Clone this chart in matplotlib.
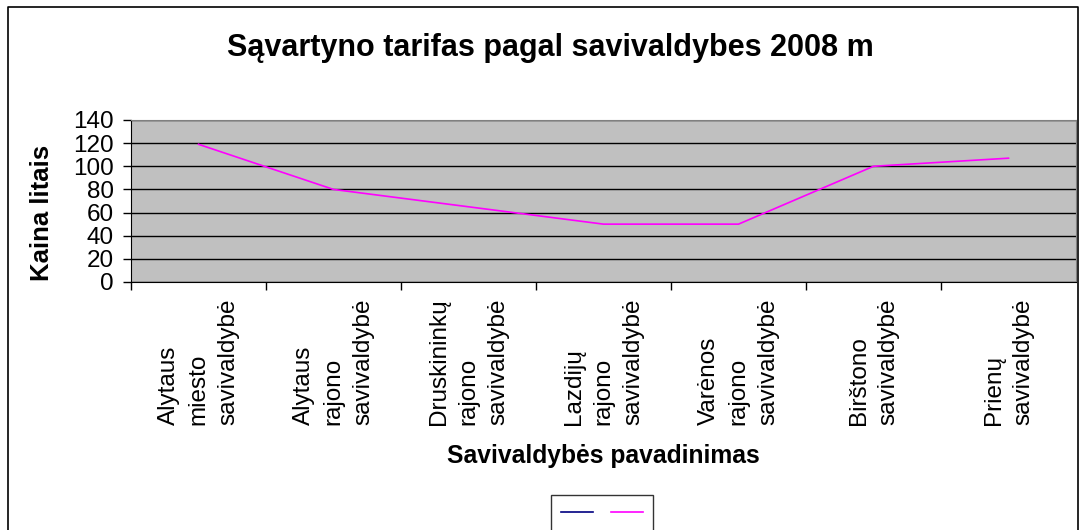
import matplotlib
matplotlib.use("Agg")
import matplotlib.pyplot as plt
from matplotlib.lines import Line2D
import numpy as np

categories = [
    "Alytaus\nmiesto\nsavivaldybė",
    "Alytaus\nrajono\nsavivaldybė",
    "Druskininkų\nrajono\nsavivaldybė",
    "Lazdijų\nrajono\nsavivaldybė",
    "Varėnos\nrajono\nsavivaldybė",
    "Birštono\nsavivaldybė",
    "Prienų\nsavivaldybė",
]
series_blue = [np.nan] * 7
series_magenta = [119, 80, 65, 50, 50, 100, 107]
yticks = [0, 20, 40, 60, 80, 100, 120, 140]

plt.rcParams['font.family'] = ['Liberation Sans', 'DejaVu Sans']

W, H = 1080, 530
fig = plt.figure(figsize=(W / 100, H / 100), dpi=100)

# outer chart border (bottom cropped)
fig.add_artist(Line2D([8 / W, 8 / W, 1078 / W, 1078 / W],
                      [-0.01, 1 - 7 / H, 1 - 7 / H, -0.01],
                      transform=fig.transFigure, color='black', lw=1.2))

ax = fig.add_axes([131 / W, 1 - 282 / H, (1076 - 131) / W, (282 - 120) / H])
ax.set_facecolor('#C0C0C0')
x = np.arange(len(categories))
l1, = ax.plot(x, series_blue, color='#000080', lw=1.2)
l2, = ax.plot(x, series_magenta, color='#FF00FF', lw=1.2)

ax.set_xlim(-0.5, len(categories) - 0.5)
ax.set_ylim(0, 140)
ax.set_yticks(yticks)
ax.set_yticklabels([str(v) for v in yticks], fontsize=17.5)
ax.yaxis.grid(True, color='black', lw=1)
ax.set_axisbelow(True)
ax.tick_params(axis='y', direction='out', length=6, width=1, pad=6.5, colors='black')

ax.set_xticks(x)
ax.set_xticklabels(categories, rotation=90, fontsize=17.5, linespacing=1.47,
                   va='top', ha='center', multialignment='left')
ax.tick_params(axis='x', which='major', length=0, pad=12)
ax.set_xticks(np.arange(len(categories)) - 0.5, minor=True)
ax.tick_params(axis='x', which='minor', direction='out', length=6, width=1)

for s in ['top', 'right']:
    ax.spines[s].set_color('#808080')
for s in ['left', 'bottom']:
    ax.spines[s].set_color('black')

fig.text(550 / W, 1 - 48 / H, "Sąvartyno tarifas pagal savivaldybes 2008 m",
         ha='center', va='center', fontsize=22, fontweight='bold')
fig.text(603 / W, 1 - 456 / H, "Savivaldybės pavadinimas",
         ha='center', va='center', fontsize=17.7, fontweight='bold')
fig.text(42 / W, 1 - 213 / H, "Kaina litais", rotation=90,
         ha='center', va='center', fontsize=18.5, fontweight='bold')

leg = fig.legend([l1, l2], ['', ''], loc='upper center',
                 bbox_to_anchor=(602 / W, 1 - 495 / H), ncol=2,
                 handlelength=1.65, handletextpad=0, columnspacing=0.93,
                 fontsize=14, frameon=True, fancybox=False,
                 borderaxespad=0, borderpad=0.5)
leg.get_frame().set_edgecolor('black')
leg.get_frame().set_linewidth(1)

fig.savefig('out.png', dpi=100, facecolor='white')
